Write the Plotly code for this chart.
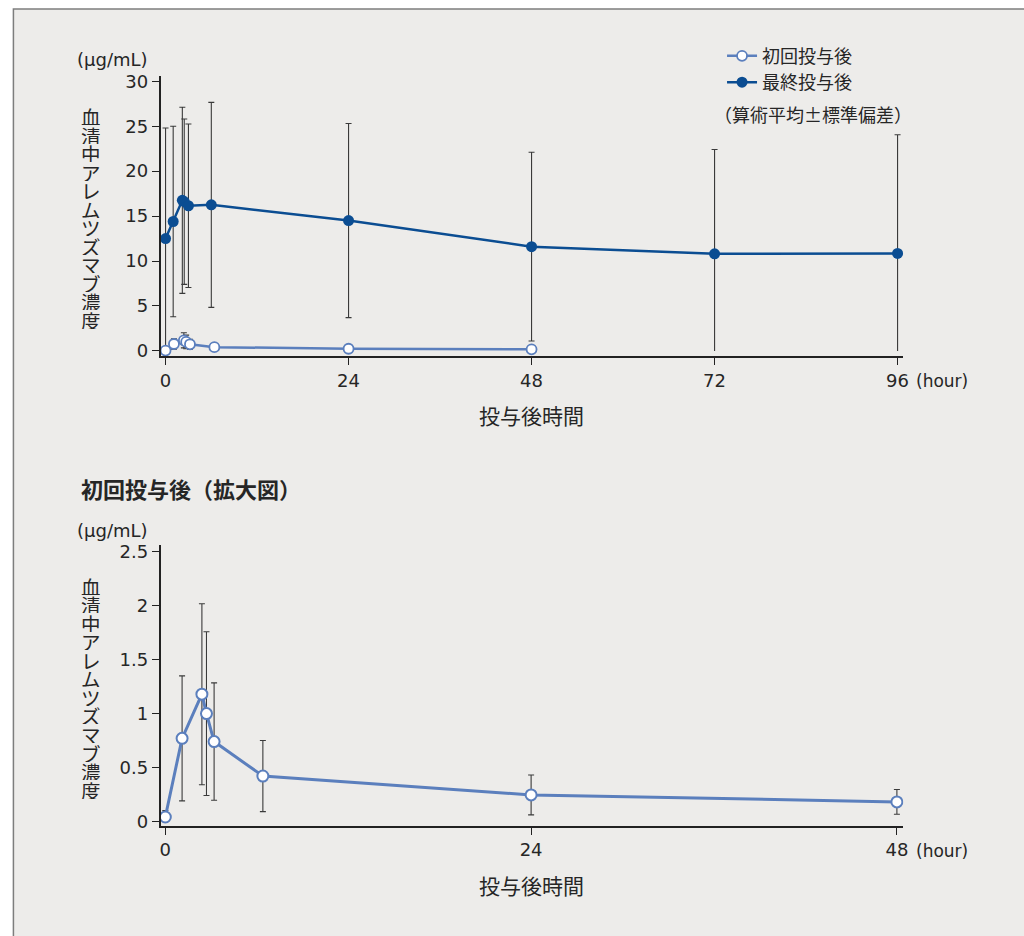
import plotly.graph_objects as go

# ---------------- data ----------------
t_first = [0, 1.1, 2.4, 2.7, 3.2, 6.4, 24, 48]
mean_first = [0.04, 0.77, 1.18, 1.0, 0.74, 0.42, 0.245, 0.18]
sd_first = [0.06, 0.58, 0.84, 0.76, 0.545, 0.33, 0.185, 0.115]

t_final = [0, 1, 2.2, 2.45, 3, 6, 24, 48, 72, 96]
mean_final = [12.5, 14.4, 16.75, 16.6, 16.15, 16.25, 14.5, 11.6, 10.8, 10.85]
sd_final = [12.3, 10.6, 10.35, 9.2, 9.1, 11.4, 10.8, 10.5, 11.6, 13.2]

name_first = "初回投与後"
name_final = "最終投与後"
top_xticks = [0, 24, 48, 72, 96]
bottom_xticks = [0, 24, 48]
top_yticks = [0, 5, 10, 15, 20, 25, 30]
bottom_yticks = [0, 0.5, 1, 1.5, 2, 2.5]
ytitle = "血清中アレムツズマブ濃度"
xtitle = "投与後時間"
unit = "(μg/mL)"
hour = "(hour)"
note = "（算術平均±標準偏差）"
sub_title = "<b>初回投与後（拡大図）</b>"

# ---------------- style ----------------
W, H = 1024, 936
BG = "#edecea"
C_FIRST = "#5b7fbd"
C_FINAL = "#0b4d92"
C_ERR = "#3a3a3a"
C_TEXT = "#262626"
C_AXIS = "#222222"
FONT = "DejaVu Sans, Noto Sans CJK JP, sans-serif"
JFONT = "Noto Sans CJK JP, sans-serif"


def px(x):
    return x / W


def py(y):
    return 1 - y / H


fig = go.Figure()


def add_errors(t, m, sd, xa, ya):
    n = len(t)
    # upper part with caps
    fig.add_trace(go.Scatter(
        x=t, y=m, mode="markers", marker=dict(opacity=0, size=2),
        error_y=dict(type="data", symmetric=False, array=sd, arrayminus=[0] * n,
                     width=3, thickness=1.1, color=C_ERR),
        xaxis=xa, yaxis=ya, showlegend=False, hoverinfo="skip"))
    lo = [min(s, v) for s, v in zip(sd, m)]
    capped = [i for i in range(n) if sd[i] < m[i]]
    clipped = [i for i in range(n) if sd[i] >= m[i]]
    for idx, w in ((capped, 3), (clipped, 0)):
        if not idx:
            continue
        fig.add_trace(go.Scatter(
            x=[t[i] for i in idx], y=[m[i] for i in idx], mode="markers",
            marker=dict(opacity=0, size=2),
            error_y=dict(type="data", symmetric=False, array=[0] * len(idx),
                         arrayminus=[lo[i] for i in idx],
                         width=w, thickness=1.1, color=C_ERR),
            xaxis=xa, yaxis=ya, showlegend=False, hoverinfo="skip"))


# top chart
add_errors(t_final, mean_final, sd_final, "x", "y")
add_errors(t_first, mean_first, sd_first, "x", "y")
fig.add_trace(go.Scatter(
    x=t_final, y=mean_final, mode="lines+markers", name=name_final,
    line=dict(color=C_FINAL, width=2.5),
    marker=dict(color=C_FINAL, size=11, line=dict(width=0)),
    xaxis="x", yaxis="y", legendrank=2))
fig.add_trace(go.Scatter(
    x=t_first, y=mean_first, mode="lines+markers", name=name_first,
    line=dict(color=C_FIRST, width=2.5),
    marker=dict(color="white", size=10, line=dict(color=C_FIRST, width=1.8)),
    xaxis="x", yaxis="y", legendrank=1))

# bottom chart
add_errors(t_first, mean_first, sd_first, "x2", "y2")
fig.add_trace(go.Scatter(
    x=t_first, y=mean_first, mode="lines+markers", name=name_first,
    line=dict(color=C_FIRST, width=3),
    marker=dict(color="white", size=11, line=dict(color=C_FIRST, width=2)),
    xaxis="x2", yaxis="y2", showlegend=False))

axis_common = dict(
    showline=True, linecolor=C_AXIS, linewidth=1.5, mirror=False,
    ticks="outside", ticklen=7, tickwidth=1.3, tickcolor=C_AXIS,
    showgrid=False, zeroline=False,
    tickfont=dict(family=FONT, size=18, color=C_TEXT),
)
xdom = [px(160.7), px(908.5)]

fig.update_layout(
    width=W, height=H,
    margin=dict(l=0, r=0, t=0, b=0),
    paper_bgcolor="white", plot_bgcolor="rgba(0,0,0,0)",
    font=dict(family=FONT, size=17, color=C_TEXT),
    xaxis=dict(domain=xdom, anchor="y", range=[-0.65, 96.75],
               tickvals=top_xticks, **axis_common),
    yaxis=dict(domain=[py(355.5), py(71.7)], anchor="x", range=[-0.6, 30.6],
               tickvals=top_yticks, **axis_common),
    xaxis2=dict(domain=xdom, anchor="y2", range=[-0.31, 48.42],
                tickvals=bottom_xticks, **axis_common),
    yaxis2=dict(domain=[py(830.7), py(546.7)], anchor="x2", range=[-0.043, 2.562],
                tickvals=bottom_yticks, **axis_common),
    showlegend=True,
    legend=dict(x=px(726), y=py(33), xanchor="left", yanchor="top",
                bgcolor="rgba(0,0,0,0)", borderwidth=0,
                font=dict(family=JFONT, size=18, color=C_TEXT),
                traceorder="normal", tracegroupgap=0),
)

# frame / background panel
fig.add_shape(type="rect", xref="paper", yref="paper",
              x0=px(12.5), x1=1.02, y0=-0.02, y1=py(4.0),
              fillcolor=BG, line=dict(color="#7d7d7d", width=1.5), layer="below")

ann = []
# vertical y-axis titles (one character per line)
for top_px in (103.0, 578.3):
    step = 18.75
    for i, ch in enumerate(ytitle):
        ann.append(dict(text=ch, x=px(91), y=py(top_px + step * (i + 0.5)),
                        xref="paper", yref="paper", showarrow=False,
                        xanchor="center", yanchor="middle", height=18,
                        font=dict(family=JFONT, size=19.5, color=C_TEXT)))
# unit labels
for ypx in (55, 531.7):
    ann.append(dict(text=unit, x=px(75), y=py(ypx), xref="paper", yref="paper",
                    showarrow=False, xanchor="left", yanchor="middle",
                    font=dict(family=FONT, size=18, color=C_TEXT)))
# hour labels
for ypx in (380, 856):
    ann.append(dict(text=hour, x=px(919), y=py(ypx), xref="paper", yref="paper",
                    showarrow=False, xanchor="left", yanchor="middle",
                    font=dict(family=FONT, size=17, color=C_TEXT)))
# x titles
for ypx in (415, 890.7):
    ann.append(dict(text=xtitle, x=px(534), y=py(ypx), xref="paper", yref="paper",
                    showarrow=False, xanchor="center", yanchor="middle",
                    font=dict(family=JFONT, size=21, color=C_TEXT)))
# note under legend
ann.append(dict(text=note, x=px(716), y=py(110), xref="paper", yref="paper",
                showarrow=False, xanchor="left", yanchor="middle",
                font=dict(family=JFONT, size=18, color=C_TEXT)))
# subtitle
ann.append(dict(text=sub_title, x=px(79), y=py(488.3), xref="paper", yref="paper",
                showarrow=False, xanchor="left", yanchor="middle",
                font=dict(family=JFONT, size=22, color=C_TEXT)))
fig.update_layout(annotations=ann)

fig.write_html("out.html")
